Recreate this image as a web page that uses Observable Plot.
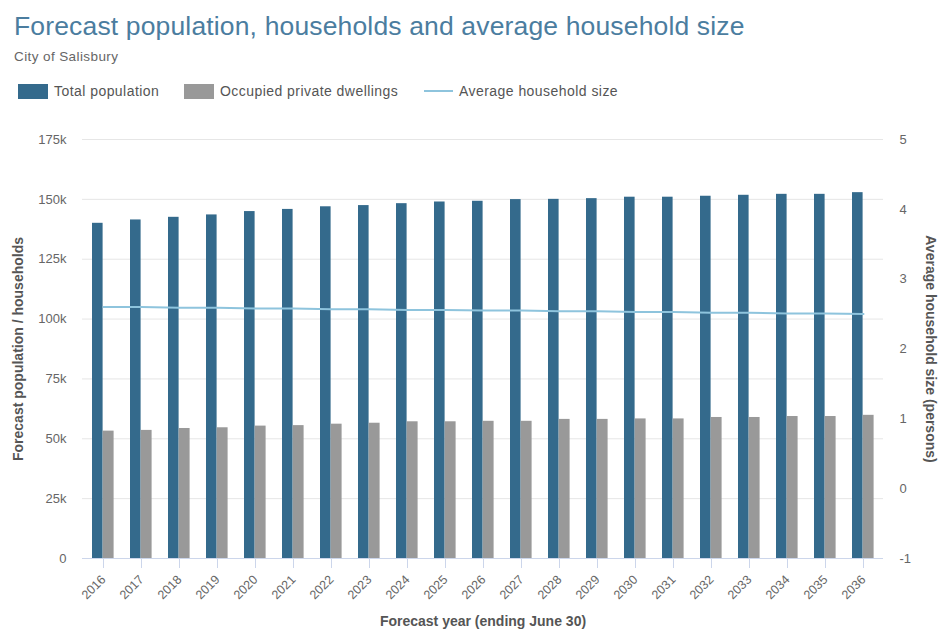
<!DOCTYPE html>
<html>
<head>
<meta charset="utf-8">
<script src="https://cdn.jsdelivr.net/npm/d3@7"></script>
<script src="https://cdn.jsdelivr.net/npm/@observablehq/plot@0.6"></script>
<style>
  html, body { margin: 0; padding: 0; background: #fff; }
  body { width: 946px; height: 629px; overflow: hidden; font-family: "Liberation Sans", Arial, sans-serif; }
  #header { position: relative; height: 110px; }
  #title { position: absolute; left: 14px; top: 11px; font-size: 26.5px; letter-spacing: 0.15px; color: #4b7d9f; white-space: nowrap; }
  #subtitle { position: absolute; left: 14px; top: 49px; font-size: 13.5px; letter-spacing: 0.4px; color: #666; }
  .leg { position: absolute; top: 83px; font-size: 14px; letter-spacing: 0.45px; color: #555; display: flex; align-items: center; white-space: nowrap; }
  .sw { width: 30px; height: 15px; margin-right: 6px; }
  .ln { width: 29px; height: 2px; margin-right: 6px; }
  #chart svg { display: block; }
</style>
</head>
<body>
<div id="header">
  <div id="title"></div>
  <div id="subtitle"></div>
  <div id="legend"></div>
</div>
<div id="chart"></div>
<script>
const titleText = "Forecast population, households and average household size";
const subtitleText = "City of Salisbury";
const seriesNames = ["Total population", "Occupied private dwellings", "Average household size"];
const seriesColors = ["#346a8c", "#999999", "#8ec4dd"];

const years = [2016, 2017, 2018, 2019, 2020, 2021, 2022, 2023, 2024, 2025, 2026,
               2027, 2028, 2029, 2030, 2031, 2032, 2033, 2034, 2035, 2036];
const population = [140000, 141400, 142500, 143500, 144900, 145800, 146900, 147400, 148200, 148900, 149200,
                    149900, 150000, 150300, 150900, 150900, 151300, 151700, 152100, 152100, 152800];
const dwellings = [53200, 53500, 54300, 54600, 55300, 55500, 56100, 56500, 57100, 57100, 57300,
                   57300, 58100, 58100, 58300, 58300, 58900, 58900, 59300, 59300, 59800];
const householdSize = [2.60, 2.60, 2.59, 2.59, 2.58, 2.58, 2.57, 2.57, 2.56, 2.56, 2.55,
                       2.55, 2.54, 2.54, 2.53, 2.53, 2.52, 2.52, 2.51, 2.51, 2.50];

const leftTicks = [0, 25000, 50000, 75000, 100000, 125000, 150000, 175000];
const leftTickLabels = ["0", "25k", "50k", "75k", "100k", "125k", "150k", "175k"];
const rightTicks = [-1, 0, 1, 2, 3, 4, 5];

const xTitle = "Forecast year (ending June 30)";
const yLeftTitle = "Forecast population / households";
const yRightTitle = "Average household size (persons)";

// map the secondary axis domain [-1, 5] onto the primary [0, 175000]
const leftMax = 175000, rMin = -1, rMax = 5;
const toLeft = s => (s - rMin) / (rMax - rMin) * leftMax;
const fromLeft = v => Math.round(v / leftMax * (rMax - rMin) + rMin);

document.getElementById("title").textContent = titleText;
document.getElementById("subtitle").textContent = subtitleText;
const legend = document.getElementById("legend");
const legPos = [18, 184, 424];
seriesNames.forEach((n, i) => {
  const d = document.createElement("div");
  d.className = "leg";
  d.style.left = legPos[i] + "px";
  const s = document.createElement("div");
  s.className = i < 2 ? "sw" : "ln";
  s.style.background = seriesColors[i];
  d.appendChild(s);
  const t = document.createElement("span");
  t.textContent = n;
  d.appendChild(t);
  legend.appendChild(d);
});

const data = years.map((y, i) => ({year: y, pop: population[i], dw: dwellings[i], hh: householdSize[i]}));

const chart = Plot.plot({
  width: 946,
  height: 519,
  marginTop: 29,
  marginBottom: 71,
  marginLeft: 82,
  marginRight: 63,
  style: {fontFamily: "'Liberation Sans', Arial, sans-serif", fontSize: "12px", background: "#fff"},
  x: {type: "band", domain: years, padding: 0},
  y: {domain: [0, leftMax]},
  marks: [
    Plot.gridY(leftTicks.filter(d => d > 0), {stroke: "#e6e6e6", strokeOpacity: 1}),
    Plot.barY(data, {x: "year", y: "pop", fill: seriesColors[0], insetLeft: 8, insetRight: 19.4}),
    Plot.barY(data, {x: "year", y: "dw", fill: seriesColors[1], insetLeft: 18.7, insetRight: 8.4}),
    Plot.ruleY([0], {stroke: "#ccd6eb"}),
    Plot.line(data, {x: "year", y: d => toLeft(d.hh), stroke: seriesColors[2], strokeWidth: 2}),
    Plot.axisY({ticks: leftTicks, tickFormat: d => leftTickLabels[leftTicks.indexOf(d)], tickSize: 0, tickPadding: 16, label: null, fill: "#666", fontSize: 13, style: {letterSpacing: "0.5px"}}),
    Plot.axisY({anchor: "right", ticks: rightTicks.map(toLeft), tickFormat: d => String(fromLeft(d)), tickSize: 0, tickPadding: 16, label: null, fill: "#666", fontSize: 13}),
    Plot.axisX({tickRotate: -45, tickSize: 10, tickPadding: 9, tickFormat: d => String(d), stroke: "#ccd6eb", fill: "#666", label: null, fontSize: 12.5, style: {letterSpacing: "0.5px"}}),
    Plot.text([xTitle], {frameAnchor: "bottom", dy: 63, lineAnchor: "middle", textAnchor: "middle", text: d => d, fill: "#555", fontWeight: "bold", fontSize: 14, style: {letterSpacing: "0.6px"}}),
    Plot.text([yLeftTitle], {frameAnchor: "left", dx: -64, rotate: -90, textAnchor: "middle", lineAnchor: "middle", text: d => d, fill: "#555", fontWeight: "bold", fontSize: 14, style: {letterSpacing: "0.5px"}}),
    Plot.text([yRightTitle], {frameAnchor: "right", dx: 47, rotate: 90, textAnchor: "middle", lineAnchor: "middle", text: d => d, fill: "#555", fontWeight: "bold", fontSize: 14, style: {letterSpacing: "0.5px"}})
  ]
});
document.getElementById("chart").appendChild(chart);
</script>
</body>
</html>
